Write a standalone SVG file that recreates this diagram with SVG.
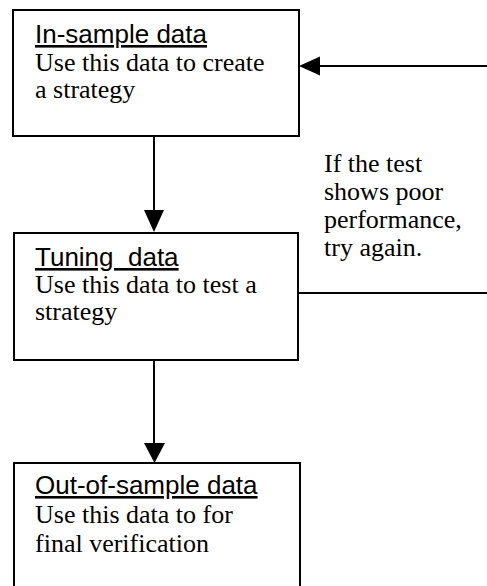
<svg xmlns="http://www.w3.org/2000/svg" width="487" height="586" viewBox="0 0 487 586">
<defs>
<style>
.box{fill:#fff;stroke:#000;stroke-width:2}
.h{font-family:"Liberation Sans",Arial,sans-serif;font-size:26px;text-decoration:underline;fill:#000}
.t{font-family:"Liberation Serif","Times New Roman",serif;font-size:26px;fill:#000}
.ln{stroke:#000;stroke-width:2;fill:none}
</style>
</defs>
<rect width="487" height="586" fill="#fff"/>
<g id="connectors">
<line class="ln" x1="154" y1="137" x2="154" y2="212"/>
<path d="M144,210 L164,210 L154,232 Z" fill="#000"/>
<line class="ln" x1="154" y1="361" x2="154" y2="445"/>
<path d="M144,443 L165,443 L154.5,463 Z" fill="#000"/>
<line class="ln" x1="298" y1="293" x2="487" y2="293"/>
<line class="ln" x1="318" y1="66" x2="487" y2="66"/>
<path d="M299,66 L320,56.5 L320,75.5 Z" fill="#000"/>
</g>
<g id="in-sample">
<rect class="box" x="13" y="10" width="286" height="126"/>
<text class="h" x="35" y="43">In-sample data</text>
<text class="t" x="35" y="71">Use this data to create</text>
<text class="t" x="35" y="98">a strategy</text>
</g>
<g id="tuning">
<rect class="box" x="14" y="233" width="284" height="127"/>
<text class="h" x="35" y="266" xml:space="preserve">Tuning  data</text>
<text class="t" x="35" y="293">Use this data to test a</text>
<text class="t" x="35" y="320">strategy</text>
</g>
<g id="out-of-sample">
<rect class="box" x="14" y="463" width="286" height="140"/>
<text class="h" x="35" y="494">Out-of-sample data</text>
<text class="t" x="35" y="523">Use this data to for</text>
<text class="t" x="35" y="552">final verification</text>
</g>
<g id="note">
<text class="t" x="324" y="172">If the test</text>
<text class="t" x="324" y="200">shows poor</text>
<text class="t" x="324" y="228">performance,</text>
<text class="t" x="324" y="256">try again.</text>
</g>
</svg>
